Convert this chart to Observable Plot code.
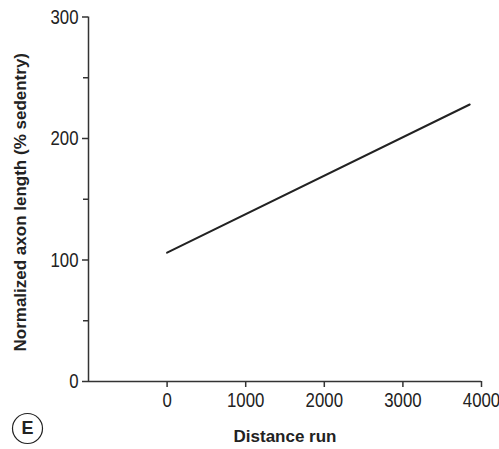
<!DOCTYPE html>
<html>
<head>
<meta charset="utf-8">
<script src="https://cdn.jsdelivr.net/npm/d3@7"></script>
<script src="https://cdn.jsdelivr.net/npm/@observablehq/plot@0.6"></script>
<style>
  html, body { margin: 0; padding: 0; background: #fff; }
</style>
</head>
<body>
<div id="chart"></div>
<script>
// Data
const distanceRun = [0, 3850];
const axonLength = [106, 228];
const xTicks = [0, 1000, 2000, 3000, 4000];
const yMajorTicks = [0, 100, 200, 300];
const yMinorTicks = [50, 150, 250];
const xTitle = "Distance run";
const yTitle = "Normalized axon length (% sedentry)";
const panelLabel = "E";

const lineData = distanceRun.map((d, i) => ({x: d, y: axonLength[i]}));
const tickFont = "'Liberation Sans', Arial, sans-serif";
const titleFont = "'Liberation Sans', Arial, sans-serif";
const ink = "#222";

const chart = Plot.plot({
  width: 499,
  height: 449,
  marginLeft: 88,
  marginRight: 18,
  marginTop: 16.5,
  marginBottom: 68,
  style: {fontFamily: tickFont, color: ink, background: "#fff"},
  x: {domain: [-1000, 4000]},
  y: {domain: [0, 300]},
  marks: [
    Plot.ruleY([0], {stroke: "#333", strokeWidth: 1.5}),
    Plot.ruleX([-1000], {y1: 0, y2: 300, stroke: "#333", strokeWidth: 1.5}),
    Plot.axisX({ticks: xTicks, tickFormat: d3.format("d"), tickSize: 6, tickPadding: 5, fontSize: 21, label: null, stroke: "#333", strokeWidth: 1.5, fill: ink}),
    Plot.axisY({ticks: yMajorTicks, tickFormat: d3.format("d"), tickSize: 6, tickPadding: 4, fontSize: 21, label: null, stroke: "#333", strokeWidth: 1.5, fill: ink}),
    Plot.axisY({ticks: yMinorTicks, tickSize: 5, text: null, label: null, stroke: "#333", strokeWidth: 1.5}),
    Plot.line(lineData, {x: "x", y: "y", stroke: ink, strokeWidth: 2}),
    Plot.text([xTitle], {text: d => d, frameAnchor: "bottom", dy: 55, textAnchor: "middle", lineAnchor: "middle", fontSize: 17, fontWeight: "bold", fontFamily: titleFont, fill: ink}),
    Plot.text([yTitle], {text: d => d, frameAnchor: "left", dx: -68, dy: 3, rotate: -90, textAnchor: "middle", lineAnchor: "middle", fontSize: 17, fontWeight: "bold", fontFamily: titleFont, fill: ink}),
    Plot.dot([panelLabel], {frameAnchor: "bottom-left", dx: -61, dy: 47, r: 15, stroke: ink, strokeWidth: 1.2, fill: "none"}),
    Plot.text([panelLabel], {text: d => d, frameAnchor: "bottom-left", dx: -61, dy: 47, textAnchor: "middle", lineAnchor: "middle", fontSize: 18, fontWeight: "bold", fontFamily: titleFont, fill: ink})
  ]
});
// Condense tick labels horizontally to mimic the narrow typeface of the reference
d3.select(chart).selectAll('g[aria-label="x-axis tick label"] text, g[aria-label="y-axis tick label"] text').each(function() {
  const t = this.getAttribute("transform") || "";
  const xa = this.getAttribute("x");
  let pre = "";
  if (xa != null && !isNaN(+xa)) { pre = `translate(${+xa},0) `; this.removeAttribute("x"); }
  this.setAttribute("transform", `${t} ${pre}scale(0.8,1)`.trim());
});
document.getElementById("chart").appendChild(chart);
</script>
</body>
</html>
